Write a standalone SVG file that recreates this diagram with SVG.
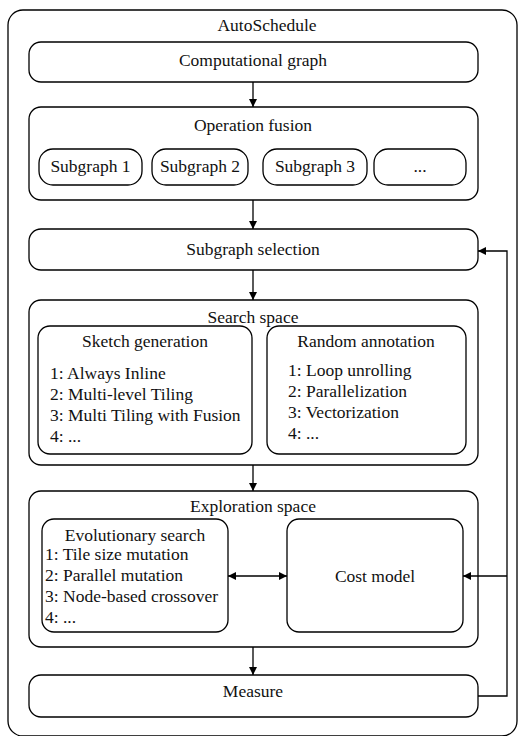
<svg xmlns="http://www.w3.org/2000/svg" width="520" height="736" viewBox="0 0 520 736">
<defs>
<marker id="a" viewBox="0 0 10 10" refX="10" refY="5" markerWidth="8" markerHeight="8" markerUnits="userSpaceOnUse" orient="auto-start-reverse">
<path d="M0,0L10,5L0,10z" fill="#000"/>
</marker>
</defs>
<rect width="520" height="736" fill="#fff"/>
<g font-family="Liberation Serif" font-size="17.5" fill="#111">
<g id="autoschedule">
<rect fill="#fff" stroke="#000" stroke-width="1.3" x="8" y="10" width="509" height="726" rx="15"/>
<text text-anchor="middle" font-family="Liberation Serif" font-size="17.5" x="267" y="31">AutoSchedule</text>
</g>
<g id="computational-graph">
<rect fill="#fff" stroke="#000" stroke-width="1.3" x="29" y="42" width="449" height="40" rx="12"/>
<text text-anchor="middle" font-family="Liberation Serif" font-size="17.5" x="253" y="66">Computational graph</text>
</g>
<g id="operation-fusion">
<rect fill="#fff" stroke="#000" stroke-width="1.3" x="29" y="107" width="449" height="93" rx="12"/>
<text text-anchor="middle" font-family="Liberation Serif" font-size="17.5" x="253" y="131">Operation fusion</text>
</g>
<g id="subgraph1">
<rect fill="#fff" stroke="#000" stroke-width="1.3" x="39" y="149" width="103" height="36" rx="14"/>
<text text-anchor="middle" font-family="Liberation Serif" font-size="17.5" x="90.5" y="172">Subgraph 1</text>
</g>
<g id="subgraph2">
<rect fill="#fff" stroke="#000" stroke-width="1.3" x="152" y="149" width="96" height="36" rx="14"/>
<text text-anchor="middle" font-family="Liberation Serif" font-size="17.5" x="200" y="172">Subgraph 2</text>
</g>
<g id="subgraph3">
<rect fill="#fff" stroke="#000" stroke-width="1.3" x="263" y="149" width="104" height="36" rx="14"/>
<text text-anchor="middle" font-family="Liberation Serif" font-size="17.5" x="315" y="172">Subgraph 3</text>
</g>
<g id="subgraph-more">
<rect fill="#fff" stroke="#000" stroke-width="1.3" x="374" y="149" width="92" height="36" rx="14"/>
<text text-anchor="middle" font-family="Liberation Serif" font-size="17.5" x="420" y="172">...</text>
</g>
<g id="subgraph-selection">
<rect fill="#fff" stroke="#000" stroke-width="1.3" x="29" y="229" width="449" height="41" rx="12"/>
<text text-anchor="middle" font-family="Liberation Serif" font-size="17.5" x="253" y="255">Subgraph selection</text>
</g>
<g id="search-space">
<rect fill="#fff" stroke="#000" stroke-width="1.3" x="29" y="300" width="449" height="165" rx="12"/>
<text text-anchor="middle" font-family="Liberation Serif" font-size="17.5" x="253" y="323">Search space</text>
</g>
<g id="sketch-generation">
<rect fill="#fff" stroke="#000" stroke-width="1.3" x="38" y="326" width="214" height="128" rx="12"/>
<text text-anchor="middle" font-family="Liberation Serif" font-size="17.5" x="145" y="347">Sketch generation</text>
<text font-family="Liberation Serif" font-size="17.5" x="50" y="379">1: Always Inline</text>
<text font-family="Liberation Serif" font-size="17.5" x="50" y="400">2: Multi-level Tiling</text>
<text font-family="Liberation Serif" font-size="17.5" x="50" y="421">3: Multi Tiling with Fusion</text>
<text font-family="Liberation Serif" font-size="17.5" x="50" y="442">4: ...</text>
</g>
<g id="random-annotation">
<rect fill="#fff" stroke="#000" stroke-width="1.3" x="267" y="326" width="199" height="128" rx="12"/>
<text text-anchor="middle" font-family="Liberation Serif" font-size="17.5" x="366" y="347">Random annotation</text>
<text font-family="Liberation Serif" font-size="17.5" x="288" y="376">1: Loop unrolling</text>
<text font-family="Liberation Serif" font-size="17.5" x="288" y="397">2: Parallelization</text>
<text font-family="Liberation Serif" font-size="17.5" x="288" y="418">3: Vectorization</text>
<text font-family="Liberation Serif" font-size="17.5" x="288" y="439">4: ...</text>
</g>
<g id="exploration-space">
<rect fill="#fff" stroke="#000" stroke-width="1.3" x="29" y="491" width="449" height="156" rx="12"/>
<text text-anchor="middle" font-family="Liberation Serif" font-size="17.5" x="253" y="512">Exploration space</text>
</g>
<g id="evolutionary-search">
<rect fill="#fff" stroke="#000" stroke-width="1.3" x="42" y="519" width="186" height="113" rx="12"/>
<text text-anchor="middle" font-family="Liberation Serif" font-size="17.5" x="135" y="541">Evolutionary search</text>
<text font-family="Liberation Serif" font-size="17.5" x="45" y="560">1: Tile size mutation</text>
<text font-family="Liberation Serif" font-size="17.5" x="45" y="581">2: Parallel mutation</text>
<text font-family="Liberation Serif" font-size="17.5" x="45" y="602">3: Node-based crossover</text>
<text font-family="Liberation Serif" font-size="17.5" x="45" y="623">4: ...</text>
</g>
<g id="cost-model">
<rect fill="#fff" stroke="#000" stroke-width="1.3" x="287" y="519" width="176" height="113" rx="12"/>
<text text-anchor="middle" font-family="Liberation Serif" font-size="17.5" x="375" y="582">Cost model</text>
</g>
<g id="measure">
<rect fill="#fff" stroke="#000" stroke-width="1.3" x="29" y="675" width="449" height="42" rx="12"/>
<text text-anchor="middle" font-family="Liberation Serif" font-size="17.5" x="253" y="697">Measure</text>
</g>
</g>
<g id="connectors" fill="none" stroke="#000" stroke-width="1.3">
<path d="M253,82V107" marker-end="url(#a)"/>
<path d="M253,200V229" marker-end="url(#a)"/>
<path d="M253,270V300" marker-end="url(#a)"/>
<path d="M253,465V491" marker-end="url(#a)"/>
<path d="M253,647V675" marker-end="url(#a)"/>
<path d="M228,576H287" marker-start="url(#a)" marker-end="url(#a)"/>
<path d="M478,696H507V251H478" marker-end="url(#a)"/>
<path d="M507,576H463" marker-end="url(#a)"/>
</g>
</svg>
